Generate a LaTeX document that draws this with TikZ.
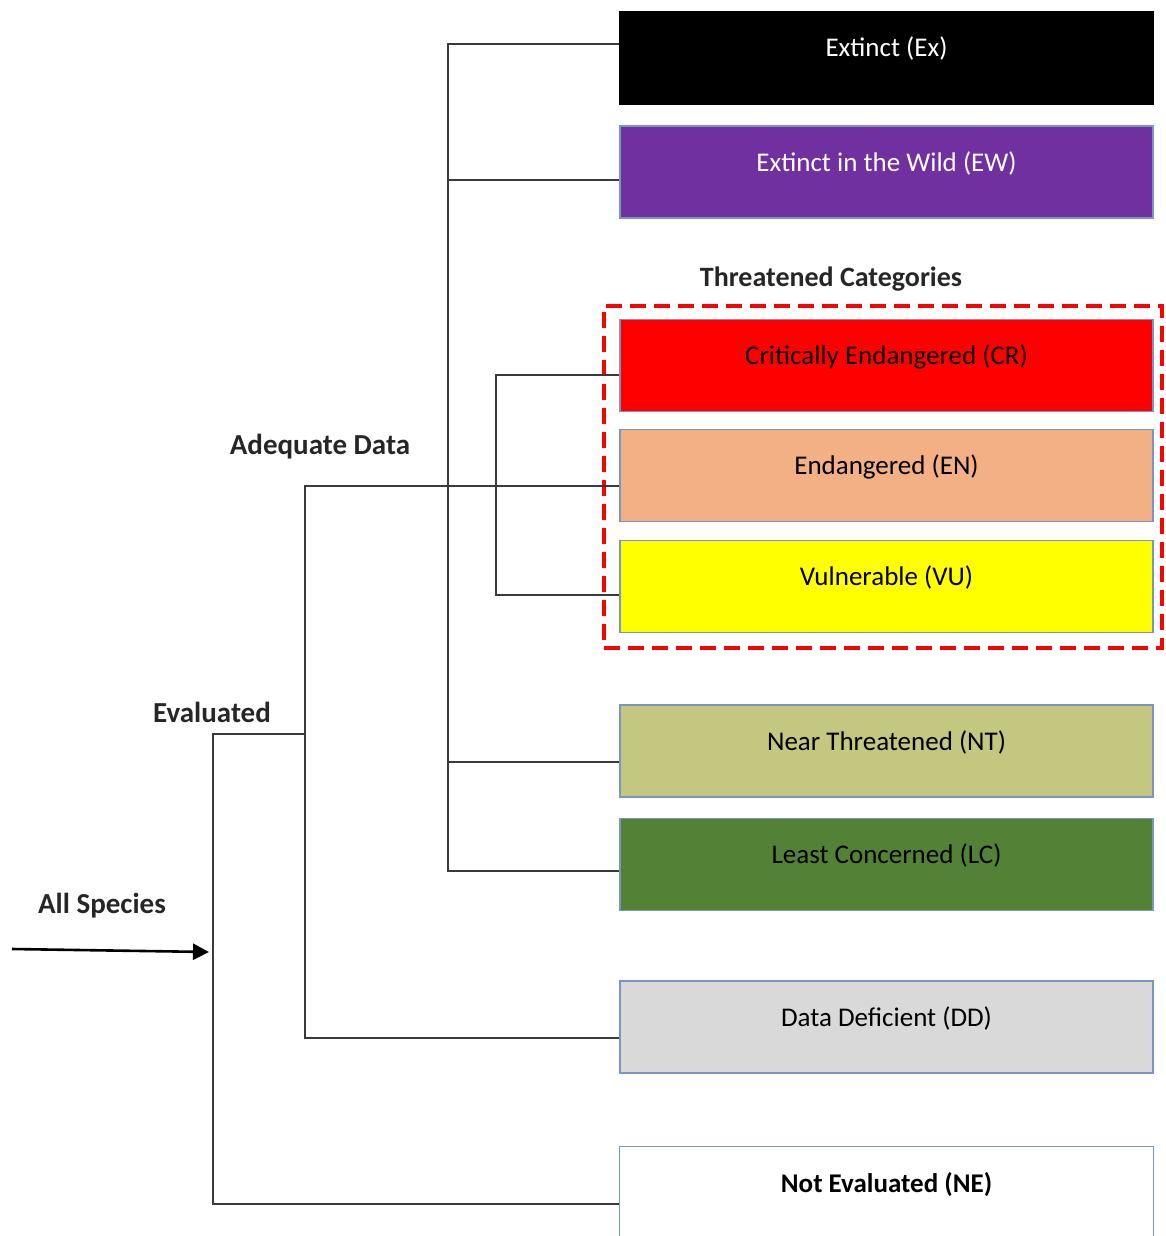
\documentclass[tikz,border=0pt]{standalone}
\usepackage{fontspec}
\setmainfont{Carlito}
\usetikzlibrary{arrows.meta}
\definecolor{exbg}{HTML}{000000}
\definecolor{ewbg}{HTML}{7030A0}
\definecolor{crbg}{HTML}{FF0000}
\definecolor{enbg}{HTML}{F2B084}
\definecolor{vubg}{HTML}{FFFF00}
\definecolor{ntbg}{HTML}{C3C77F}
\definecolor{lcbg}{HTML}{538135}
\definecolor{ddbg}{HTML}{D9D9D9}
\definecolor{bordblue}{HTML}{7896C4}
\definecolor{connc}{HTML}{3A3A3A}
\definecolor{dashred}{HTML}{FF0000}
\tikzset{
  catbox/.style={rectangle, draw=bordblue, line width=0.7pt, minimum width=266.5pt,
    minimum height=46pt, inner xsep=0pt, inner ysep=0pt, text height=22.5pt, text depth=23.5pt,
    font=\fontsize{13.5}{16}\selectfont, text=black},
  lbl/.style={font=\bfseries\fontsize{14.5}{17}\selectfont, text=black!85},
  conn/.style={draw=connc, line width=1pt},
  threat/.style={draw=dashred, line width=2.2pt, dash pattern=on 8pt off 4pt}
}
\begin{document}
\begin{tikzpicture}[x=0.5pt,y=-0.5pt]
\useasboundingbox (0,0) rectangle (1166,1236);
% category boxes
\node[catbox, fill=exbg, draw=black, text=white] (ex) at (886.5,58) {Extinct (Ex)};
\node[catbox, fill=ewbg, text=white] (ew) at (886.5,172) {Extinct in the Wild (EW)};
\node[catbox, fill=crbg] (cr) at (886.5,365.5) {Critically Endangered (CR)};
\node[catbox, fill=enbg] (en) at (886.5,475.5) {Endangered (EN)};
\node[catbox, fill=vubg] (vu) at (886.5,586.5) {Vulnerable (VU)};
\node[catbox, fill=ntbg] (nt) at (886.5,751) {Near Threatened (NT)};
\node[catbox, fill=lcbg] (lc) at (886.5,864.5) {Least Concerned (LC)};
\node[catbox, fill=ddbg] (dd) at (886.5,1027) {Data Deficient (DD)};
\node[catbox, draw=none, font=\bfseries\fontsize{13.5}{16}\selectfont, minimum height=44.5pt, text depth=22pt] (ne) at (886.5,1191.5) {Not Evaluated (NE)};
\draw[draw=bordblue, line width=0.7pt] (ne.south west) -- (ne.north west) -- (ne.north east) -- (ne.south east);
% threatened frame
\node[threat, rectangle, minimum width=279pt, minimum height=171pt, inner sep=0pt] (thr) at (883,477) {};
\node[lbl, font=\bfseries\fontsize{14}{17}\selectfont] (thrlbl) at (831,279) {Threatened Categories};
% labels
\node[lbl] (adq) at (320,447) {Adequate Data};
\node[lbl] (evl) at (212,712) {Evaluated};
\node[lbl] (alls) at (102,906) {All Species};
% junction coordinates
\coordinate (t1) at (448,500);
\coordinate (t2) at (496,480);
\coordinate (t3) at (305,734);
\coordinate (t4) at (213,952);
\coordinate (asstart) at (12,949);
% adequate-data trunk
\draw[conn] ([yshift=7pt]ex.west) -| (t1) |- ([yshift=-3.25pt]lc.west);
\draw[conn] ([yshift=-4pt]ew.west) -| (t1);
\draw[conn] ([yshift=-5.5pt]nt.west) -| (t1);
% threatened sub-trunk
\draw[conn] ([yshift=-4.75pt]cr.west) -| (t2) |- ([yshift=-4.25pt]vu.west);
% adequate data / data deficient
\draw[conn] ([yshift=-5.25pt]en.west) -| (t3) |- ([yshift=-5.5pt]dd.west);
% evaluated / not evaluated
\draw[conn] (t3) -| (t4) |- ([yshift=-6.25pt]ne.west);
% all species arrow
\draw[draw=black, line width=1.3pt, -{Triangle[length=8pt,width=8pt]}] (asstart) -- ([xshift=-2pt]t4);
\end{tikzpicture}
\end{document}
